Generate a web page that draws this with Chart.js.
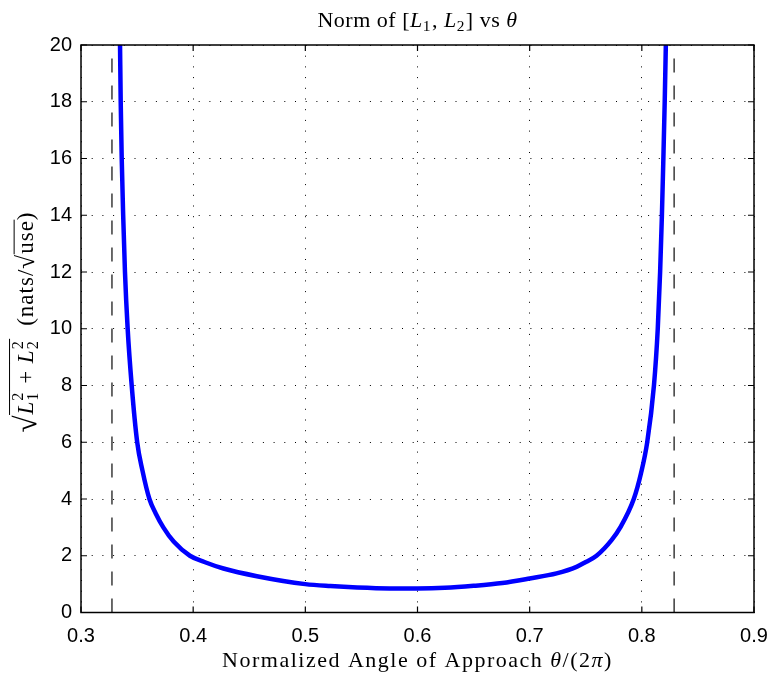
<!DOCTYPE html>
<html>
<head>
<meta charset="utf-8">
<title>Norm of [L1, L2] vs theta</title>
<script src="https://cdn.jsdelivr.net/npm/chart.js@4.4.1/dist/chart.umd.min.js"></script>
<style>
  html, body { margin: 0; padding: 0; background: #fff; }
  #wrap { width: 772px; height: 677px; }
</style>
</head>
<body>
<div id="wrap"><canvas id="normChart" width="772" height="677"></canvas></div>
<script>
// Data
const xTicks = [0.3, 0.4, 0.5, 0.6, 0.7, 0.8, 0.9];
const yTicks = [0, 2, 4, 6, 8, 10, 12, 14, 16, 18, 20];

// normalized angle theta/(2*pi)
const thetaValues = [
    0.3348, 0.3354, 0.3363, 0.3376, 0.3392, 0.3416, 0.3452, 0.3501, 0.3548, 0.3610,
    0.3665, 0.3734, 0.3826, 0.3971, 0.4100, 0.4270, 0.4568, 0.5000, 0.5223, 0.5462,
    0.5750, 0.6000, 0.6244, 0.6500, 0.6756, 0.7000, 0.7240, 0.7418, 0.7500, 0.7596,
    0.7730, 0.7808, 0.7928, 0.7992, 0.8048, 0.8108, 0.8142, 0.8163, 0.8179, 0.8192,
    0.8204, 0.8214
];
// sqrt(L1^2 + L2^2)
const normValues = [
    20, 18, 16, 14, 12, 10, 8, 6, 5, 4,
    3.5, 3, 2.5, 2, 1.78, 1.55, 1.28, 1.0, 0.93, 0.88,
    0.85, 0.85, 0.87, 0.94, 1.04, 1.2, 1.38, 1.61, 1.78, 2.0,
    2.55, 3.0, 4.0, 4.9, 6, 8, 10, 12, 14, 16,
    18, 20
];

// dashed asymptotes
const asymptotes = [0.3276, 0.8288];

const SERIF = '"Liberation Serif", "DejaVu Serif", serif';
const SANS = '"Liberation Sans", Arial, sans-serif';

// draw a list of text runs (with italic, sub/sup stacks and overlines)
function drawRuns(ctx, runs, size, spacing, cx, cy, rotate) {
    ctx.save();
    ctx.translate(cx, cy);
    if (rotate) ctx.rotate(-Math.PI / 2);
    ctx.textBaseline = 'alphabetic';
    ctx.fillStyle = '#000';
    ctx.letterSpacing = spacing + 'px';
    const fontFor = (r, s) => (r.italic ? 'italic ' : '') + s + 'px ' + SERIF;
    // measure
    const widths = runs.map(r => {
        if (r.stack) {
            ctx.font = fontFor(r, size * 0.7);
            return Math.max(ctx.measureText(r.stack[0]).width, ctx.measureText(r.stack[1]).width) + 1;
        }
        const s = size * (r.scale || 1);
        ctx.font = fontFor(r, s);
        return ctx.measureText(r.text).width;
    });
    const total = widths.reduce((a, b) => a + b, 0);
    let x = -total / 2;
    const spans = [];
    runs.forEach((r, i) => {
        if (r.stack) {
            ctx.font = fontFor(r, size * 0.7);
            if (r.stack[0]) ctx.fillText(r.stack[0], x, -size * 0.42);
            if (r.stack[1]) ctx.fillText(r.stack[1], x, size * 0.2);
        } else {
            const s = size * (r.scale || 1);
            ctx.font = fontFor(r, s);
            ctx.fillText(r.text, x, r.dy ? r.dy * size : 0);
        }
        if (r.over) spans.push([x, x + widths[i], r.over]);
        x += widths[i];
    });
    ctx.strokeStyle = '#000';
    ctx.lineWidth = 1;
    spans.forEach(([a, b, h]) => {
        ctx.beginPath();
        ctx.moveTo(a - 0.5, -size * h);
        ctx.lineTo(b + 0.5, -size * h);
        ctx.stroke();
    });
    ctx.restore();
}

const titleRuns = [
    { text: 'Norm of [' }, { text: 'L', italic: true }, { stack: ['', '1'] },
    { text: ', ' }, { text: 'L', italic: true }, { stack: ['', '2'] },
    { text: '] vs ' }, { text: 'θ', italic: true }
];
const xLabelRuns = [
    { text: 'Normalized Angle of Approach ' }, { text: 'θ', italic: true },
    { text: '/(2' }, { text: 'π', italic: true }, { text: ')' }
];
const yLabelRuns = [
    { text: '√', scale: 1.35, dy: 0.12 },
    { text: 'L', italic: true, over: 1.02 }, { stack: ['2', '1'], over: 1.02 },
    { text: ' + ', over: 1.02 },
    { text: 'L', italic: true, over: 1.02 }, { stack: ['2', '2'], over: 1.02 },
    { text: '  (nats/' }, { text: '√', scale: 1.1, dy: 0.06 },
    { text: 'use', over: 0.82 }, { text: ')' }
];

const labelsPlugin = {
    id: 'labels',
    afterDraw(chart) {
        const ctx = chart.ctx;
        const area = chart.chartArea;
        const xs = chart.scales.x, ys = chart.scales.y;
        // box
        ctx.save();
        ctx.strokeStyle = '#000';
        ctx.lineWidth = 1.5;
        ctx.strokeRect(area.left, area.top, area.right - area.left, area.bottom - area.top);
        // inward ticks on all four sides
        ctx.lineWidth = 1.2;
        const t = 6;
        ctx.beginPath();
        xTicks.forEach(v => {
            const px = xs.getPixelForValue(v);
            ctx.moveTo(px, area.bottom); ctx.lineTo(px, area.bottom - t);
            ctx.moveTo(px, area.top); ctx.lineTo(px, area.top + t);
        });
        yTicks.forEach(v => {
            const py = ys.getPixelForValue(v);
            ctx.moveTo(area.left, py); ctx.lineTo(area.left + t, py);
            ctx.moveTo(area.right, py); ctx.lineTo(area.right - t, py);
        });
        ctx.stroke();
        ctx.restore();

        const cx = (area.left + area.right) / 2;
        drawRuns(ctx, titleRuns, 22, 0.5, cx, 27, false);
        drawRuns(ctx, xLabelRuns, 22, 1.5, cx, 667, false);
        drawRuns(ctx, yLabelRuns, 23, 1, 33, 322, true);
    }
};

function initChart() {
    const ctx = document.getElementById('normChart').getContext('2d');
    new Chart(ctx, {
        type: 'line',
        data: {
            datasets: [{
                label: 'norm',
                data: thetaValues.map((x, i) => ({ x: x, y: normValues[i] })),
                borderColor: '#0000ff',
                borderWidth: 4.5,
                pointRadius: 0,
                cubicInterpolationMode: 'monotone',
                fill: false,
                clip: 0,
            }, ...asymptotes.map(a => ({
                label: 'asymptote',
                data: [{ x: a, y: 0 }, { x: a, y: 20 }],
                borderColor: '#3a3a3a',
                borderWidth: 1.5,
                borderDash: [14, 13],
                pointRadius: 0,
                fill: false,
            }))]
        },
        options: {
            responsive: false,
            animation: false,
            devicePixelRatio: 1,
            layout: { padding: { top: 45, right: 18, left: 0, bottom: 0 } },
            plugins: {
                legend: { display: false },
                tooltip: { enabled: false },
                title: { display: false },
            },
            scales: {
                x: {
                    type: 'linear',
                    min: 0.3,
                    max: 0.9,
                    afterBuildTicks: (s) => { s.ticks = xTicks.map(v => ({ value: v })); },
                    afterFit: (s) => { s.height = 64.5; s.paddingLeft = 0; s.paddingRight = 0; },
                    ticks: {
                        color: '#000',
                        font: { family: SANS, size: 20 },
                        padding: 12,
                        maxRotation: 0,
                        callback: (v) => v.toFixed(1),
                    },
                    grid: { color: '#000', lineWidth: 1, drawTicks: false },
                    border: { display: false, dash: [1, 9.7] },
                },
                y: {
                    type: 'linear',
                    min: 0,
                    max: 20,
                    afterBuildTicks: (s) => { s.ticks = yTicks.map(v => ({ value: v })); },
                    afterFit: (s) => { s.width = 81; s.paddingTop = 0; s.paddingBottom = 0; },
                    ticks: {
                        color: '#000',
                        font: { family: SANS, size: 20 },
                        padding: 9,
                        callback: (v) => String(v),
                    },
                    grid: { color: '#000', lineWidth: 1, drawTicks: false },
                    border: { display: false, dash: [1, 9.7] },
                }
            }
        },
        plugins: [labelsPlugin]
    });
}

initChart();
</script>
</body>
</html>
